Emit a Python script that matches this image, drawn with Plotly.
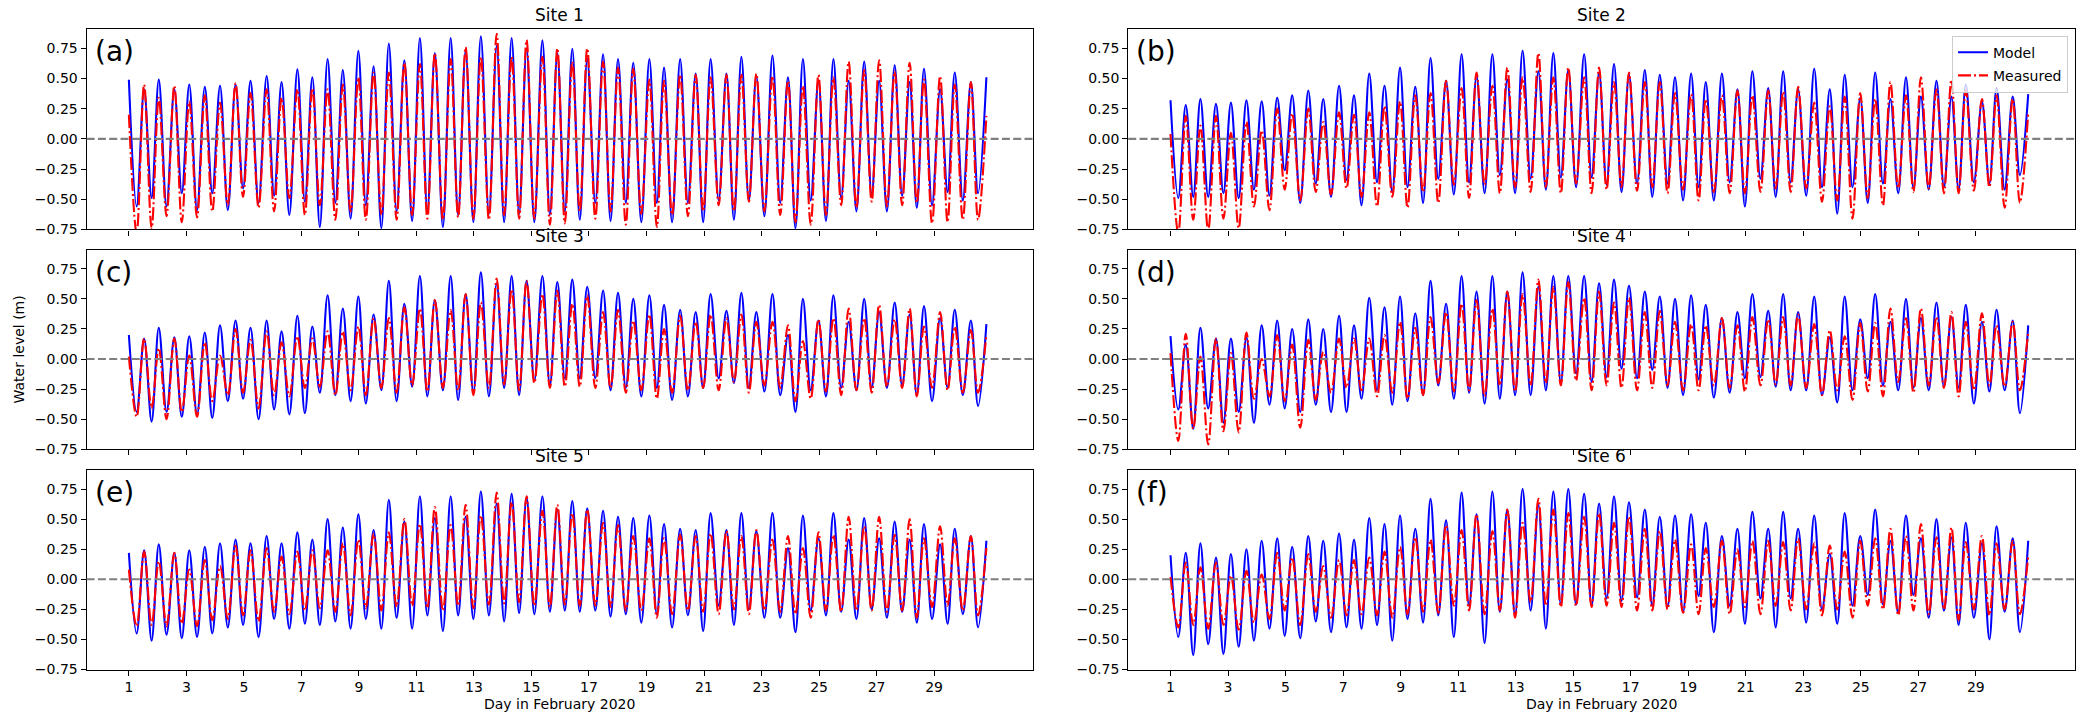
import plotly.graph_objects as go

# ---------------- data ----------------
T_START = 1.00
T_END = 30.82
T_HIGH = [1.53, 2.04, 2.58, 3.10, 3.64, 4.17, 4.71, 5.23, 5.79, 6.31, 6.86, 7.38, 7.91, 8.44, 8.98, 9.51,
          10.04, 10.58, 11.12, 11.64, 12.19, 12.71, 13.24, 13.79, 14.31, 14.83, 15.38, 15.90, 16.42, 16.94,
          17.49, 18.01, 18.54, 19.10, 19.61, 20.17, 20.71, 21.23, 21.78, 22.30, 22.82, 23.38, 23.92, 24.44,
          24.98, 25.50, 26.03, 26.57, 27.09, 27.63, 28.15, 28.65, 29.21, 29.72, 30.28]
T_LOW = [1.27, 1.79, 2.31, 2.84, 3.37, 3.90, 4.44, 4.97, 5.51, 6.05, 6.58, 7.12, 7.64, 8.18, 8.71, 9.24,
         9.78, 10.31, 10.85, 11.38, 11.92, 12.45, 12.98, 13.52, 14.05, 14.57, 15.10, 15.64, 16.16, 16.68,
         17.22, 17.75, 18.28, 18.82, 19.36, 19.89, 20.44, 20.97, 21.51, 22.04, 22.56, 23.10, 23.65, 24.18,
         24.71, 25.24, 25.77, 26.30, 26.83, 27.36, 27.89, 28.40, 28.93, 29.47, 30.00, 30.53]

SITES = ["Site 1", "Site 2", "Site 3", "Site 4", "Site 5", "Site 6"]
PANEL = ["(a)", "(b)", "(c)", "(d)", "(e)", "(f)"]

# Site 1
S1_MODEL_START, S1_MODEL_END = 0.49, 0.51
S1_MEAS_START, S1_MEAS_END = 0.20, 0.19
S1_MODEL_HIGH = [0.41, 0.49, 0.41, 0.45, 0.43, 0.44, 0.45, 0.48, 0.52, 0.47, 0.575, 0.51, 0.66, 0.57, 0.73, 0.60,
                 0.79, 0.65, 0.835, 0.71, 0.835, 0.73, 0.85, 0.77, 0.835, 0.75, 0.815, 0.71, 0.745, 0.66, 0.70,
                 0.66, 0.63, 0.66, 0.59, 0.66, 0.54, 0.66, 0.54, 0.68, 0.52, 0.69, 0.51, 0.66, 0.48, 0.66, 0.48,
                 0.64, 0.48, 0.61, 0.47, 0.58, 0.41, 0.55, 0.47]
S1_MEAS_HIGH = [0.45, 0.34, 0.44, 0.31, 0.36, 0.30, 0.46, 0.38, 0.41, 0.34, 0.41, 0.42, 0.41, 0.45, 0.51, 0.55,
                0.55, 0.63, 0.62, 0.71, 0.66, 0.76, 0.68, 0.87, 0.68, 0.82, 0.68, 0.75, 0.64, 0.75, 0.64, 0.59,
                0.58, 0.49, 0.48, 0.53, 0.53, 0.51, 0.53, 0.53, 0.54, 0.52, 0.48, 0.44, 0.53, 0.51, 0.64, 0.57,
                0.65, 0.56, 0.63, 0.49, 0.52, 0.45, 0.47]
S1_MODEL_LOW = [-0.56, -0.49, -0.56, -0.45, -0.59, -0.45, -0.59, -0.41, -0.53, -0.47, -0.63, -0.52, -0.73, -0.53,
                -0.66, -0.55, -0.74, -0.60, -0.68, -0.60, -0.73, -0.63, -0.69, -0.62, -0.69, -0.62, -0.69, -0.63,
                -0.60, -0.67, -0.53, -0.68, -0.53, -0.69, -0.53, -0.69, -0.53, -0.69, -0.51, -0.67, -0.51, -0.64,
                -0.53, -0.74, -0.51, -0.68, -0.49, -0.60, -0.46, -0.60, -0.47, -0.57, -0.55, -0.44, -0.51, -0.45]
S1_MEAS_LOW = [-0.78, -0.74, -0.64, -0.69, -0.65, -0.60, -0.55, -0.48, -0.57, -0.60, -0.49, -0.63, -0.55, -0.67,
               -0.60, -0.67, -0.63, -0.67, -0.63, -0.66, -0.67, -0.65, -0.66, -0.67, -0.63, -0.66, -0.66, -0.71,
               -0.70, -0.60, -0.66, -0.60, -0.71, -0.62, -0.73, -0.63, -0.64, -0.60, -0.55, -0.60, -0.52, -0.60,
               -0.63, -0.69, -0.71, -0.63, -0.55, -0.57, -0.52, -0.56, -0.55, -0.53, -0.70, -0.69, -0.67, -0.67]

# Site 2
S2_MODEL_START, S2_MODEL_END = 0.32, 0.37
S2_MEAS_START, S2_MEAS_END = 0.04, 0.22
S2_MODEL_HIGH = [0.28, 0.33, 0.29, 0.30, 0.32, 0.31, 0.34, 0.36, 0.40, 0.33, 0.44, 0.36, 0.54, 0.44, 0.59, 0.43,
                 0.67, 0.48, 0.70, 0.52, 0.70, 0.49, 0.73, 0.56, 0.71, 0.57, 0.70, 0.55, 0.62, 0.53, 0.57, 0.53,
                 0.51, 0.54, 0.47, 0.54, 0.41, 0.56, 0.42, 0.56, 0.41, 0.58, 0.41, 0.53, 0.34, 0.55, 0.33, 0.51,
                 0.35, 0.48, 0.35, 0.45, 0.31, 0.42, 0.35]
S2_MEAS_HIGH = [0.19, 0.11, 0.19, 0.05, 0.14, 0.07, 0.25, 0.21, 0.25, 0.14, 0.22, 0.20, 0.22, 0.27, 0.31, 0.36,
                0.38, 0.48, 0.42, 0.55, 0.44, 0.59, 0.51, 0.71, 0.51, 0.59, 0.51, 0.59, 0.47, 0.55, 0.47, 0.47,
                0.38, 0.37, 0.33, 0.36, 0.40, 0.36, 0.40, 0.39, 0.43, 0.30, 0.27, 0.35, 0.38, 0.33, 0.47, 0.36,
                0.51, 0.41, 0.49, 0.40, 0.33, 0.36, 0.33]
S2_MODEL_LOW = [-0.49, -0.48, -0.48, -0.45, -0.49, -0.42, -0.47, -0.26, -0.53, -0.37, -0.48, -0.34, -0.55, -0.36,
                -0.44, -0.40, -0.53, -0.33, -0.46, -0.36, -0.45, -0.30, -0.45, -0.33, -0.42, -0.32, -0.40, -0.32,
                -0.38, -0.44, -0.37, -0.48, -0.37, -0.51, -0.40, -0.51, -0.36, -0.56, -0.33, -0.48, -0.36, -0.47,
                -0.40, -0.62, -0.40, -0.53, -0.37, -0.45, -0.41, -0.42, -0.40, -0.42, -0.36, -0.37, -0.42, -0.30]
S2_MEAS_LOW = [-0.78, -0.67, -0.76, -0.66, -0.74, -0.56, -0.59, -0.42, -0.51, -0.44, -0.46, -0.41, -0.48, -0.56,
               -0.48, -0.57, -0.44, -0.53, -0.38, -0.49, -0.38, -0.45, -0.40, -0.44, -0.40, -0.45, -0.37, -0.45,
               -0.42, -0.40, -0.43, -0.40, -0.45, -0.42, -0.51, -0.44, -0.45, -0.45, -0.44, -0.41, -0.44, -0.41,
               -0.52, -0.51, -0.66, -0.49, -0.55, -0.41, -0.44, -0.41, -0.45, -0.45, -0.43, -0.40, -0.57, -0.53]

# Site 3
S3_MODEL_START, S3_MODEL_END = 0.20, 0.29
S3_MEAS_START, S3_MEAS_END = 0.02, 0.20
S3_MODEL_HIGH = [0.17, 0.26, 0.18, 0.19, 0.22, 0.28, 0.32, 0.26, 0.32, 0.23, 0.36, 0.27, 0.53, 0.42, 0.52, 0.37,
                 0.65, 0.46, 0.69, 0.49, 0.69, 0.54, 0.72, 0.63, 0.69, 0.65, 0.69, 0.64, 0.66, 0.60, 0.57, 0.55,
                 0.50, 0.53, 0.45, 0.41, 0.39, 0.54, 0.40, 0.55, 0.39, 0.54, 0.20, 0.50, 0.32, 0.53, 0.31, 0.50,
                 0.39, 0.47, 0.37, 0.44, 0.34, 0.41, 0.32]
S3_MEAS_HIGH = [0.17, 0.09, 0.17, 0.03, 0.14, 0.03, 0.25, 0.16, 0.23, 0.14, 0.19, 0.17, 0.23, 0.23, 0.27, 0.34,
                0.34, 0.43, 0.42, 0.49, 0.41, 0.54, 0.47, 0.67, 0.58, 0.65, 0.54, 0.57, 0.46, 0.53, 0.39, 0.41,
                0.32, 0.37, 0.25, 0.36, 0.31, 0.37, 0.34, 0.37, 0.31, 0.31, 0.28, 0.15, 0.33, 0.34, 0.42, 0.34,
                0.45, 0.33, 0.42, 0.27, 0.39, 0.27, 0.24]
S3_MODEL_LOW = [-0.44, -0.52, -0.44, -0.48, -0.46, -0.49, -0.35, -0.33, -0.50, -0.42, -0.46, -0.45, -0.28, -0.30,
                -0.35, -0.37, -0.26, -0.35, -0.23, -0.31, -0.26, -0.34, -0.28, -0.31, -0.24, -0.30, -0.18, -0.22,
                -0.16, -0.16, -0.16, -0.26, -0.24, -0.31, -0.24, -0.34, -0.31, -0.24, -0.16, -0.20, -0.24, -0.27,
                -0.30, -0.44, -0.26, -0.31, -0.24, -0.26, -0.24, -0.24, -0.22, -0.30, -0.35, -0.24, -0.30, -0.39]
S3_MEAS_LOW = [-0.48, -0.41, -0.50, -0.44, -0.48, -0.35, -0.30, -0.28, -0.41, -0.30, -0.31, -0.24, -0.23, -0.30,
               -0.26, -0.30, -0.24, -0.28, -0.22, -0.27, -0.24, -0.26, -0.30, -0.24, -0.21, -0.26, -0.20, -0.24,
               -0.23, -0.23, -0.24, -0.24, -0.28, -0.26, -0.33, -0.28, -0.26, -0.24, -0.26, -0.19, -0.28, -0.22,
               -0.24, -0.35, -0.33, -0.27, -0.30, -0.26, -0.28, -0.23, -0.24, -0.31, -0.24, -0.26, -0.28, -0.28]

# Site 4
S4_MODEL_START, S4_MODEL_END = 0.19, 0.28
S4_MEAS_START, S4_MEAS_END = 0.05, 0.23
S4_MODEL_HIGH = [0.12, 0.26, 0.17, 0.17, 0.18, 0.28, 0.32, 0.25, 0.33, 0.25, 0.36, 0.28, 0.51, 0.43, 0.52, 0.38,
                 0.65, 0.46, 0.69, 0.56, 0.69, 0.56, 0.72, 0.60, 0.69, 0.69, 0.69, 0.63, 0.66, 0.61, 0.56, 0.52,
                 0.50, 0.53, 0.45, 0.34, 0.39, 0.54, 0.40, 0.54, 0.39, 0.52, 0.18, 0.52, 0.33, 0.54, 0.31, 0.50,
                 0.34, 0.47, 0.35, 0.45, 0.31, 0.41, 0.32]
S4_MEAS_HIGH = [0.21, 0.02, 0.17, 0.05, 0.22, 0.00, 0.20, 0.12, 0.16, 0.06, 0.17, 0.17, 0.17, 0.20, 0.31, 0.26,
                0.35, 0.39, 0.46, 0.49, 0.42, 0.56, 0.54, 0.66, 0.60, 0.64, 0.51, 0.56, 0.47, 0.51, 0.39, 0.40,
                0.31, 0.29, 0.28, 0.34, 0.28, 0.35, 0.33, 0.35, 0.37, 0.29, 0.24, 0.19, 0.30, 0.30, 0.42, 0.34,
                0.42, 0.35, 0.39, 0.31, 0.38, 0.28, 0.31]
S4_MODEL_LOW = [-0.42, -0.58, -0.41, -0.53, -0.44, -0.53, -0.38, -0.41, -0.44, -0.38, -0.44, -0.44, -0.33, -0.26,
                -0.38, -0.35, -0.30, -0.22, -0.33, -0.28, -0.37, -0.33, -0.30, -0.30, -0.26, -0.20, -0.12, -0.19,
                -0.15, -0.08, -0.16, -0.09, -0.24, -0.30, -0.17, -0.32, -0.28, -0.16, -0.15, -0.23, -0.26, -0.26,
                -0.30, -0.36, -0.26, -0.16, -0.22, -0.26, -0.24, -0.26, -0.23, -0.24, -0.37, -0.27, -0.26, -0.45]
S4_MEAS_LOW = [-0.68, -0.58, -0.71, -0.60, -0.61, -0.33, -0.31, -0.35, -0.57, -0.34, -0.28, -0.24, -0.26, -0.31,
               -0.28, -0.33, -0.30, -0.20, -0.27, -0.26, -0.31, -0.22, -0.27, -0.22, -0.20, -0.22, -0.18, -0.26,
               -0.22, -0.24, -0.26, -0.24, -0.22, -0.26, -0.26, -0.22, -0.24, -0.27, -0.22, -0.21, -0.22, -0.24,
               -0.30, -0.26, -0.34, -0.27, -0.31, -0.19, -0.28, -0.22, -0.24, -0.31, -0.26, -0.22, -0.23, -0.26]

# Site 5
S5_MODEL_START, S5_MODEL_END = 0.22, 0.32
S5_MEAS_START, S5_MEAS_END = 0.08, 0.26
S5_MODEL_HIGH = [0.24, 0.29, 0.22, 0.24, 0.27, 0.30, 0.33, 0.30, 0.36, 0.30, 0.39, 0.33, 0.50, 0.43, 0.54, 0.41,
                 0.66, 0.48, 0.69, 0.51, 0.69, 0.52, 0.73, 0.63, 0.71, 0.68, 0.69, 0.58, 0.65, 0.59, 0.57, 0.52,
                 0.51, 0.53, 0.46, 0.42, 0.41, 0.55, 0.41, 0.55, 0.40, 0.55, 0.26, 0.53, 0.34, 0.55, 0.33, 0.51,
                 0.34, 0.48, 0.33, 0.46, 0.29, 0.42, 0.36]
S5_MEAS_HIGH = [0.23, 0.15, 0.22, 0.08, 0.16, 0.11, 0.28, 0.24, 0.26, 0.19, 0.23, 0.24, 0.24, 0.30, 0.33, 0.38,
                0.39, 0.50, 0.46, 0.60, 0.45, 0.62, 0.53, 0.72, 0.64, 0.69, 0.57, 0.62, 0.55, 0.58, 0.47, 0.45,
                0.36, 0.34, 0.34, 0.37, 0.36, 0.38, 0.40, 0.36, 0.41, 0.33, 0.36, 0.26, 0.39, 0.37, 0.52, 0.44,
                0.52, 0.37, 0.50, 0.34, 0.44, 0.34, 0.36]
S5_MODEL_LOW = [-0.45, -0.51, -0.46, -0.49, -0.48, -0.45, -0.40, -0.38, -0.48, -0.33, -0.41, -0.37, -0.38, -0.35,
                -0.41, -0.33, -0.41, -0.32, -0.41, -0.30, -0.43, -0.30, -0.33, -0.30, -0.35, -0.28, -0.29, -0.27,
                -0.26, -0.27, -0.26, -0.31, -0.29, -0.36, -0.29, -0.40, -0.30, -0.43, -0.22, -0.38, -0.25, -0.32,
                -0.32, -0.44, -0.26, -0.30, -0.27, -0.33, -0.25, -0.32, -0.27, -0.36, -0.33, -0.37, -0.29, -0.40]
S5_MEAS_LOW = [-0.39, -0.38, -0.39, -0.37, -0.39, -0.34, -0.33, -0.30, -0.35, -0.27, -0.29, -0.26, -0.24, -0.27,
               -0.30, -0.24, -0.26, -0.23, -0.22, -0.24, -0.26, -0.22, -0.24, -0.21, -0.20, -0.19, -0.22, -0.23,
               -0.21, -0.22, -0.22, -0.23, -0.26, -0.26, -0.32, -0.29, -0.26, -0.27, -0.29, -0.25, -0.29, -0.26,
               -0.27, -0.29, -0.32, -0.26, -0.27, -0.26, -0.26, -0.27, -0.26, -0.32, -0.23, -0.22, -0.26, -0.30]

# Site 6
S6_MODEL_START, S6_MODEL_END = 0.20, 0.32
S6_MEAS_START, S6_MEAS_END = 0.02, 0.19
S6_MODEL_HIGH = [0.22, 0.30, 0.18, 0.21, 0.25, 0.32, 0.34, 0.27, 0.36, 0.32, 0.38, 0.33, 0.51, 0.46, 0.53, 0.42,
                 0.67, 0.49, 0.72, 0.54, 0.73, 0.58, 0.75, 0.62, 0.73, 0.75, 0.71, 0.63, 0.69, 0.64, 0.58, 0.52,
                 0.53, 0.54, 0.47, 0.36, 0.42, 0.56, 0.42, 0.56, 0.42, 0.53, 0.21, 0.55, 0.36, 0.58, 0.32, 0.53,
                 0.34, 0.50, 0.35, 0.47, 0.30, 0.44, 0.34]
S6_MEAS_HIGH = [0.14, 0.10, 0.14, 0.03, 0.07, 0.04, 0.22, 0.18, 0.21, 0.11, 0.16, 0.16, 0.18, 0.23, 0.27, 0.35,
                0.33, 0.45, 0.41, 0.54, 0.40, 0.58, 0.47, 0.67, 0.58, 0.55, 0.52, 0.55, 0.47, 0.52, 0.42, 0.40,
                0.33, 0.29, 0.26, 0.32, 0.25, 0.32, 0.32, 0.31, 0.34, 0.30, 0.28, 0.23, 0.32, 0.34, 0.42, 0.36,
                0.46, 0.35, 0.43, 0.31, 0.36, 0.30, 0.32]
S6_MODEL_LOW = [-0.48, -0.63, -0.54, -0.62, -0.56, -0.51, -0.41, -0.47, -0.49, -0.35, -0.44, -0.40, -0.41, -0.38,
                -0.51, -0.33, -0.36, -0.30, -0.48, -0.22, -0.53, -0.27, -0.30, -0.26, -0.41, -0.21, -0.21, -0.22,
                -0.16, -0.18, -0.15, -0.22, -0.23, -0.27, -0.14, -0.44, -0.22, -0.37, -0.16, -0.40, -0.16, -0.36,
                -0.25, -0.37, -0.22, -0.13, -0.21, -0.28, -0.13, -0.32, -0.26, -0.38, -0.32, -0.50, -0.27, -0.44]
S6_MEAS_LOW = [-0.40, -0.38, -0.41, -0.38, -0.42, -0.36, -0.33, -0.26, -0.38, -0.27, -0.32, -0.30, -0.29, -0.30,
               -0.32, -0.29, -0.27, -0.28, -0.22, -0.26, -0.29, -0.26, -0.32, -0.19, -0.22, -0.23, -0.22, -0.23,
               -0.22, -0.23, -0.26, -0.26, -0.25, -0.28, -0.29, -0.23, -0.29, -0.23, -0.29, -0.22, -0.26, -0.25,
               -0.30, -0.25, -0.32, -0.22, -0.25, -0.30, -0.26, -0.29, -0.25, -0.34, -0.25, -0.30, -0.25, -0.29]

X_TICKS = list(range(1, 30, 2))
Y_TICKS = [-0.75, -0.5, -0.25, 0.0, 0.25, 0.5, 0.75]
Y_TICKTEXT = ["\u22120.75", "\u22120.50", "\u22120.25", "0.00", "0.25", "0.50", "0.75"]

SERIES = [
    (S1_MODEL_START, S1_MODEL_HIGH, S1_MODEL_LOW, S1_MODEL_END, S1_MEAS_START, S1_MEAS_HIGH, S1_MEAS_LOW, S1_MEAS_END),
    (S2_MODEL_START, S2_MODEL_HIGH, S2_MODEL_LOW, S2_MODEL_END, S2_MEAS_START, S2_MEAS_HIGH, S2_MEAS_LOW, S2_MEAS_END),
    (S3_MODEL_START, S3_MODEL_HIGH, S3_MODEL_LOW, S3_MODEL_END, S3_MEAS_START, S3_MEAS_HIGH, S3_MEAS_LOW, S3_MEAS_END),
    (S4_MODEL_START, S4_MODEL_HIGH, S4_MODEL_LOW, S4_MODEL_END, S4_MEAS_START, S4_MEAS_HIGH, S4_MEAS_LOW, S4_MEAS_END),
    (S5_MODEL_START, S5_MODEL_HIGH, S5_MODEL_LOW, S5_MODEL_END, S5_MEAS_START, S5_MEAS_HIGH, S5_MEAS_LOW, S5_MEAS_END),
    (S6_MODEL_START, S6_MODEL_HIGH, S6_MODEL_LOW, S6_MODEL_END, S6_MEAS_START, S6_MEAS_HIGH, S6_MEAS_LOW, S6_MEAS_END),
]


def merge(start, highs, lows, end):
    xs, ys = [T_START], [start]
    for i in range(len(T_LOW)):
        xs.append(T_LOW[i]); ys.append(lows[i])
        if i < len(T_HIGH):
            xs.append(T_HIGH[i]); ys.append(highs[i])
    xs.append(T_END); ys.append(end)
    return xs, ys


# ---------------- layout geometry ----------------
W, H = 2087, 728
XDOM = [[0.0415, 0.4951], [0.5406, 0.9943]]
YDOM = [[0.6813, 0.9598], [0.3760, 0.6534], [0.0701, 0.3475]]
XR = [-0.47, 32.45]
YR = [-0.75, 0.91]
FONT = "DejaVu Sans, Liberation Sans, sans-serif"

fig = go.Figure()
layout = dict(width=W, height=H, margin=dict(l=0, r=0, t=0, b=0),
              paper_bgcolor="white", plot_bgcolor="white",
              font=dict(family=FONT, size=14, color="#000000"),
              showlegend=True)
annotations = []
shapes = []

for k in range(6):
    row, col = k // 2, k % 2
    n = k + 1
    xa = "x" if n == 1 else f"x{n}"
    ya = "y" if n == 1 else f"y{n}"
    ms, mh, ml, me, rs, rh, rl, re_ = SERIES[k]
    mx, my = merge(ms, mh, ml, me)
    rx, ry = merge(rs, rh, rl, re_)
    fig.add_trace(go.Scatter(x=mx, y=my, mode="lines", name="Model",
                             line=dict(color="#0000ff", width=2.1, shape="spline", smoothing=1.0),
                             xaxis=xa, yaxis=ya, showlegend=(k == 1), legendgroup="m"))
    fig.add_trace(go.Scatter(x=rx, y=ry, mode="lines", name="Measured",
                             line=dict(color="#ff0000", width=2.1, shape="spline", smoothing=1.0,
                                       dash="13px,3px,2px,3px"),
                             xaxis=xa, yaxis=ya, showlegend=(k == 1), legendgroup="r"))
    axis_common = dict(showline=True, mirror=True, linecolor="#000000", linewidth=1.1,
                       ticks="outside", ticklen=5, tickwidth=1.1, tickcolor="#000000",
                       showgrid=False, zeroline=False, tickfont=dict(size=14, color="#000000"))
    layout["xaxis" if n == 1 else f"xaxis{n}"] = dict(
        domain=XDOM[col], range=XR, anchor=ya, tickmode="array", tickvals=X_TICKS,
        ticktext=[str(v) for v in X_TICKS], showticklabels=(row == 2), **axis_common)
    layout["yaxis" if n == 1 else f"yaxis{n}"] = dict(
        domain=YDOM[row], range=YR, anchor=xa, tickmode="array", tickvals=Y_TICKS,
        ticktext=Y_TICKTEXT, **axis_common)
    shapes.append(dict(type="line", xref=f"{xa} domain", x0=0, x1=1, yref=ya, y0=0, y1=0,
                       line=dict(color="#808080", width=2.1, dash="8px,3.3px"), layer="above"))
    annotations.append(dict(text=SITES[k], xref="paper", yref="paper",
                            x=(XDOM[col][0] + XDOM[col][1]) / 2, y=YDOM[row][1],
                            xanchor="center", yanchor="bottom", yshift=2, showarrow=False,
                            font=dict(size=17, color="#000000")))
    annotations.append(dict(text=PANEL[k], xref=f"{xa} domain", yref=f"{ya} domain",
                            x=0, y=1, xanchor="left", yanchor="top", xshift=6, yshift=-4,
                            showarrow=False, font=dict(size=28, color="#000000")))

annotations.append(dict(text="Water level (m)", xref="paper", yref="paper",
                        x=19 / W, y=(YDOM[1][0] + YDOM[1][1]) / 2, textangle=-90,
                        xanchor="center", yanchor="middle", showarrow=False,
                        font=dict(size=14, color="#000000")))
for col in range(2):
    annotations.append(dict(text="Day in February 2020", xref="paper", yref="paper",
                            x=(XDOM[col][0] + XDOM[col][1]) / 2, y=(H - 712) / H,
                            xanchor="center", yanchor="middle", showarrow=False,
                            font=dict(size=14, color="#000000")))

layout["annotations"] = annotations
layout["shapes"] = shapes
layout["legend"] = dict(x=2068 / W, y=1 - 36 / H, xanchor="right", yanchor="top",
                        bgcolor="rgba(255,255,255,0.8)", bordercolor="#cccccc", borderwidth=1,
                        font=dict(size=14, color="#000000"), tracegroupgap=2)
fig.update_layout(**layout)
fig.write_html("out.html")
